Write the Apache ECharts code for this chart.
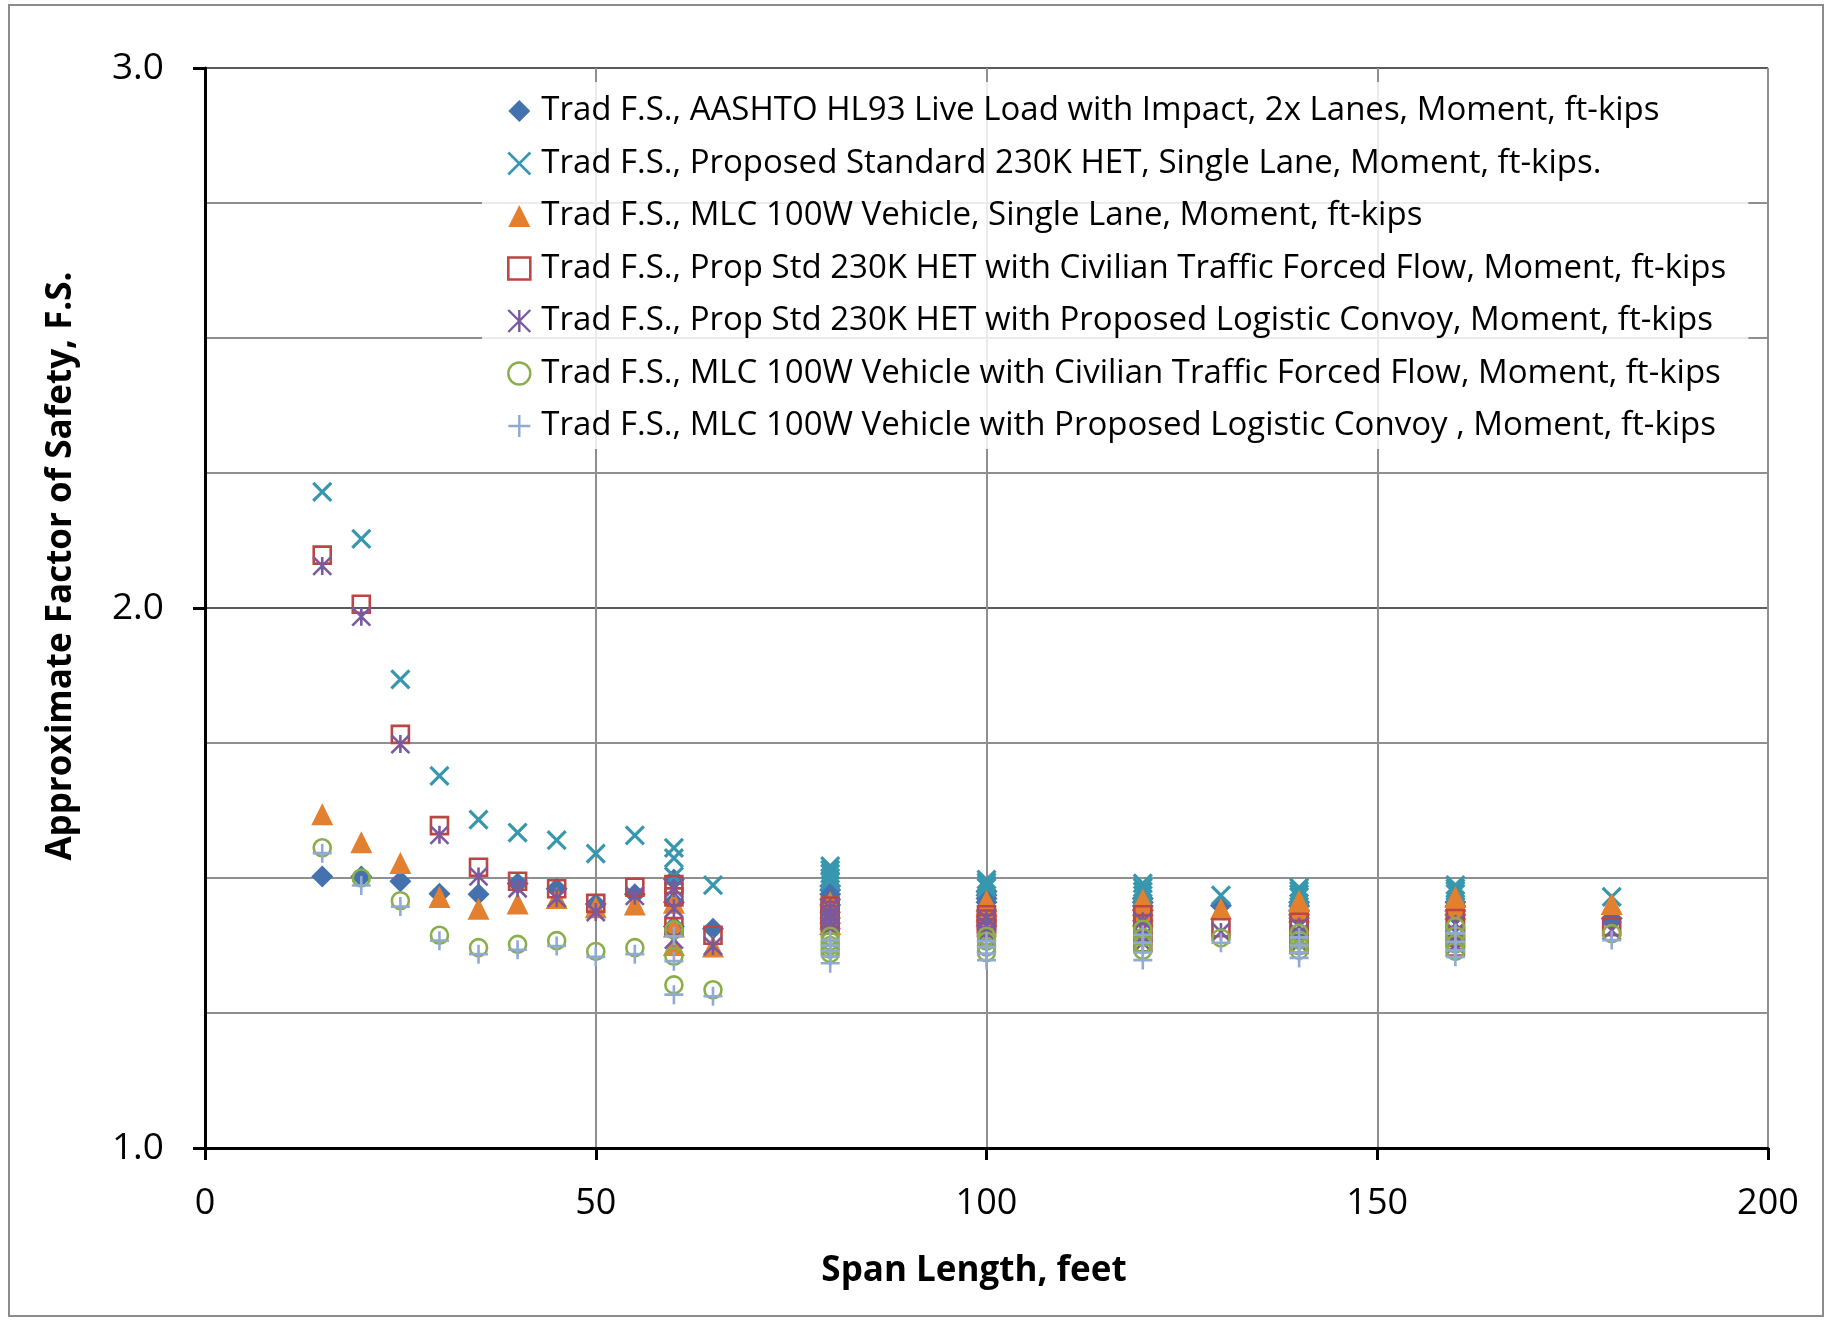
<!DOCTYPE html>
<html>
<head>
<meta charset="utf-8">
<script src="https://cdn.jsdelivr.net/npm/echarts@6/dist/echarts.min.js"></script>
<style>
html,body{margin:0;padding:0;background:#fff;}
#chart{width:1829px;height:1320px;}
</style>
</head>
<body>
<div id="chart"></div>
<script>
// Span lengths (feet) shared by every series
var spans = [15,20,25,30,35,40,45,50,55, 60,60,60, 65, 80,80,80,80,80, 100,100,100,100, 120,120,120,120, 130, 140,140,140,140, 160,160,160,160, 180];

var seriesNames = [
  'Trad F.S., AASHTO HL93 Live Load with Impact, 2x Lanes, Moment, ft-kips',
  'Trad F.S., Proposed Standard 230K HET, Single Lane, Moment, ft-kips.',
  'Trad F.S., MLC 100W Vehicle, Single Lane, Moment, ft-kips',
  'Trad F.S., Prop Std 230K HET with Civilian Traffic Forced Flow, Moment, ft-kips',
  'Trad F.S., Prop Std 230K HET with Proposed Logistic Convoy, Moment, ft-kips',
  'Trad F.S., MLC 100W Vehicle with Civilian Traffic Forced Flow, Moment, ft-kips',
  'Trad F.S., MLC 100W Vehicle with Proposed Logistic Convoy , Moment, ft-kips'
];

var hl93 = [1.503,1.503,1.494,1.471,1.470,1.490,1.480,1.452,1.470, 1.497,1.455,1.410, 1.406, 1.485,1.478,1.470,1.460,1.450, 1.475,1.468,1.462,1.455, 1.462,1.455,1.448,1.440, 1.449, 1.455,1.448,1.440,1.432, 1.455,1.448,1.440,1.432, 1.425];
var het230 = [2.215,2.128,1.868,1.689,1.608,1.584,1.570,1.545,1.579, 1.556,1.537,1.503, 1.487, 1.522,1.515,1.508,1.500,1.494, 1.497,1.492,1.487,1.482, 1.490,1.482,1.475,1.468, 1.468, 1.482,1.476,1.470,1.465, 1.487,1.481,1.476,1.471, 1.465];
var mlc100 = [1.618,1.566,1.528,1.465,1.443,1.453,1.463,1.446,1.451, 1.454,1.410,1.376, 1.373, 1.455,1.445,1.435,1.425,1.415, 1.458,1.448,1.440,1.430, 1.460,1.450,1.440,1.430, 1.443, 1.458,1.452,1.445,1.438, 1.465,1.458,1.450,1.443, 1.452];
var hetCivilian = [2.098,2.007,1.766,1.597,1.520,1.494,1.480,1.453,1.483, 1.488,1.465,1.410, 1.394, 1.448,1.440,1.432,1.425,1.418, 1.432,1.424,1.416,1.408, 1.432,1.415,1.398,1.380, 1.408, 1.418,1.405,1.390,1.377, 1.425,1.408,1.390,1.372, 1.410];
var hetConvoy = [2.078,1.984,1.748,1.580,1.503,1.481,1.463,1.437,1.467, 1.481,1.444,1.386, 1.374, 1.445,1.435,1.428,1.420,1.410, 1.425,1.412,1.400,1.390, 1.420,1.405,1.392,1.380, 1.400, 1.410,1.398,1.388,1.378, 1.415,1.400,1.388,1.376, 1.403];
var mlcCivilian = [1.556,1.500,1.458,1.394,1.371,1.377,1.384,1.364,1.371, 1.404,1.355,1.302, 1.293, 1.392,1.383,1.375,1.368,1.360, 1.392,1.383,1.372,1.362, 1.405,1.390,1.378,1.366, 1.389, 1.398,1.385,1.375,1.366, 1.410,1.393,1.378,1.364, 1.397];
var mlcConvoy = [1.546,1.486,1.447,1.384,1.359,1.367,1.374,1.354,1.359, 1.392,1.346,1.284, 1.281, 1.385,1.375,1.365,1.355,1.342, 1.383,1.372,1.360,1.348, 1.395,1.380,1.362,1.348, 1.380, 1.390,1.375,1.362,1.352, 1.398,1.382,1.366,1.354, 1.385];

var yTicks = [1, 2, 3];
var xTitle = 'Span Length, feet';
var yTitle = 'Approximate Factor of Safety, F.S.';

var FONT = "'Open Sans', 'Noto Sans', sans-serif";
var allValues = [hl93, het230, mlc100, hetCivilian, hetConvoy, mlcCivilian, mlcConvoy];

var styles = [
  {symbol:'diamond', size:22, itemStyle:{color:'#4472AE', borderWidth:0, opacity:1}, legendStyle:{color:'#4472AE', borderWidth:0, opacity:1}},
  {symbol:'path://M0,0L16,16M16,0L0,16', size:18, itemStyle:{color:'rgba(0,0,0,0)', borderColor:'#3797AE', borderWidth:3.2, opacity:1}, legendStyle:{color:'rgba(0,0,0,0)', borderColor:'#3797AE', borderWidth:2.6, opacity:1}},
  {symbol:'triangle', size:22, itemStyle:{color:'#E3802F', borderWidth:0, opacity:1}, legendStyle:{color:'#E3802F', borderWidth:0, opacity:1}},
  {symbol:'rect', size:17, itemStyle:{color:'rgba(0,0,0,0)', borderColor:'#BC4643', borderWidth:2.6, opacity:1}, legendStyle:{color:'rgba(0,0,0,0)', borderColor:'#BC4643', borderWidth:2.6, opacity:1}},
  {symbol:'path://M0,0L16,16M16,0L0,16M8,0L8,16', size:18, itemStyle:{color:'rgba(0,0,0,0)', borderColor:'#7A5A9E', borderWidth:2.6, opacity:1}, legendStyle:{color:'rgba(0,0,0,0)', borderColor:'#7A5A9E', borderWidth:2.4, opacity:1}},
  {symbol:'circle', size:17, itemStyle:{color:'rgba(0,0,0,0)', borderColor:'#8AAE4A', borderWidth:2.6, opacity:1}, legendStyle:{color:'rgba(0,0,0,0)', borderColor:'#8AAE4A', borderWidth:2.4, opacity:1}},
  {symbol:'path://M8,0L8,16M0,8L16,8', size:19, itemStyle:{color:'rgba(0,0,0,0)', borderColor:'#90AAD4', borderWidth:2.6, opacity:1}, legendStyle:{color:'rgba(0,0,0,0)', borderColor:'#90AAD4', borderWidth:2.4, opacity:1}}
];

var series = seriesNames.map(function(name, i){
  return {
    name: name,
    type: 'scatter',
    symbol: styles[i].symbol,
    symbolSize: styles[i].size,
    itemStyle: styles[i].itemStyle,
    emphasis: {disabled: true},
    data: spans.map(function(x, k){ return [x, allValues[i][k]]; })
  };
});

var chart = echarts.init(document.getElementById('chart'), null, {renderer:'canvas'});
chart.setOption({
  animation: false,
  backgroundColor: '#fff',
  grid: {left:205, right:61, top:68, bottom:172, containLabel:false, outerBoundsMode:'none'},
  xAxis: {
    type:'value', min:0, max:200, interval:50,
    axisLine:{show:true, onZero:false, lineStyle:{color:'#000', width:3}},
    axisTick:{show:true, length:12, inside:false, lineStyle:{color:'#000', width:3}},
    axisLabel:{fontSize:36, color:'#000', margin:38, fontFamily:FONT},
    splitLine:{show:true, lineStyle:{color:'#8f8f8f', width:2}}
  },
  yAxis: {
    type:'value', min:yTicks[0], max:yTicks[yTicks.length-1], interval:1,
    axisLine:{show:true, onZero:false, lineStyle:{color:'#000', width:3}},
    axisTick:{show:true, length:12, inside:false, lineStyle:{color:'#000', width:3}},
    axisLabel:{fontSize:37, color:'#000', margin:41, fontFamily:FONT, formatter:function(v){return v.toFixed(1);}},
    splitLine:{show:true, lineStyle:{color:'#5a5a5a', width:2}},
    minorTick:{show:false, splitNumber:4},
    minorSplitLine:{show:true, lineStyle:{color:'#8f8f8f', width:2}}
  },
  legend: {
    orient:'vertical', left:482, top:82,
    padding:[11, 22, 5, 25],
    itemGap:16.5, itemWidth:22, itemHeight:22,
    backgroundColor:'rgba(255,255,255,0.82)',
    textStyle:{fontSize:33, lineHeight:36, color:'#000', fontFamily:FONT, padding:[0,0,0,6]},
    data: seriesNames.map(function(n, i){ return {name:n, itemStyle:styles[i].legendStyle}; })
  },
  graphic: [
    {type:'rect', silent:true, z:-1, shape:{x:9, y:5, width:1814, height:1311}, style:{fill:'none', stroke:'#8c8c8c', lineWidth:2}},
    {type:'text', x:974, y:1271, style:{text:xTitle, font:"bold 35px 'Open Sans', sans-serif", fill:'#000', textAlign:'center', textVerticalAlign:'middle'}},
    {type:'text', x:61, y:566, rotation:Math.PI/2, style:{text:yTitle, font:"bold 35px 'Open Sans', sans-serif", fill:'#000', textAlign:'center', textVerticalAlign:'middle'}}
  ],
  series: series
});
</script>
</body>
</html>
